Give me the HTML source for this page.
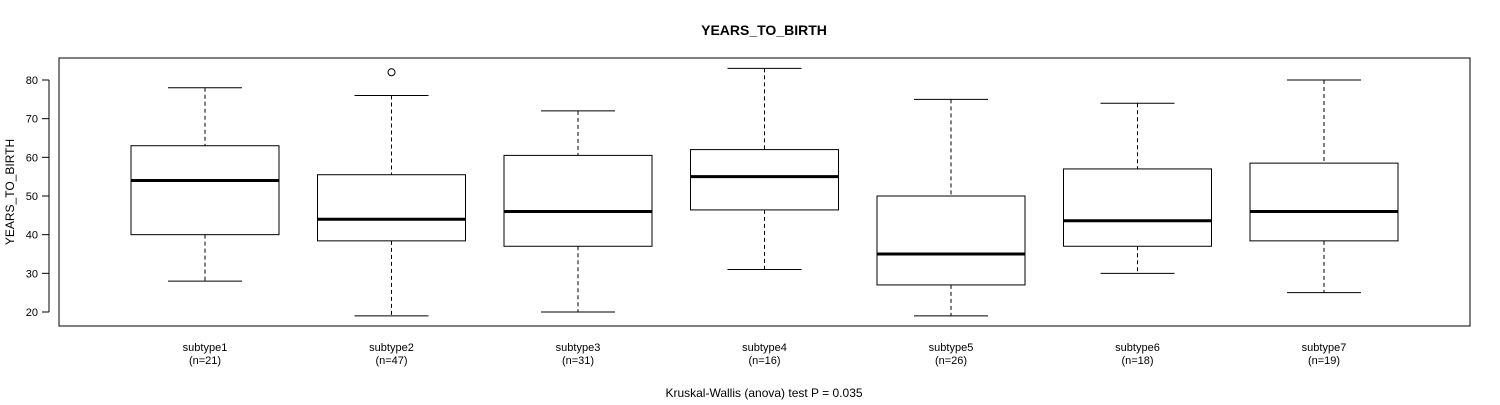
<!DOCTYPE html>
<html><head><meta charset="utf-8"><style>
body{margin:0;background:#fff;}
svg text{font-family:"Liberation Sans",sans-serif;}
</style></head><body>
<svg id="chart" width="1500" height="400" xmlns="http://www.w3.org/2000/svg">
<rect width="1500" height="400" fill="#fff"/>
<text x="764" y="35" text-anchor="middle" font-size="14" font-weight="bold">YEARS_TO_BIRTH</text>
<rect x="59" y="58" width="1411" height="268" fill="none" stroke="#000"/>
<text transform="translate(14,192) rotate(-90)" text-anchor="middle" font-size="12">YEARS_TO_BIRTH</text>
<text x="764" y="397" text-anchor="middle" font-size="12">Kruskal-Wallis (anova) test P = 0.035</text>
<g id="marks"></g>
</svg>
<script>
const categories=["subtype1","subtype2","subtype3","subtype4","subtype5","subtype6","subtype7"];
const counts=[21,47,31,16,26,18,19];
const lows=[28,19,20,31,19,30,25];
const q1s=[40,38.4,37,46.4,27,37,38.4];
const medians=[54,44,46,55,35,43.6,46];
const q3s=[63,55.5,60.5,62,50,57,58.5];
const highs=[78,76,72,83,75,74,80];
const outliers=[[],[82],[],[],[],[],[]];
const yTicks=[20,30,40,50,60,70,80];
const NS="http://www.w3.org/2000/svg";
const g=document.getElementById('marks');
const y=v=>312-(v-20)*(232/60);
const x=i=>205+i*186.5;
function mk(tag,attrs,parent){const e=document.createElementNS(NS,tag);for(const k in attrs)e.setAttribute(k,attrs[k]);(parent||g).appendChild(e);return e;}
mk('line',{x1:49,x2:49,y1:y(20),y2:y(80),stroke:'#000'});
yTicks.forEach(t=>{
  const l=mk('line',{x1:42,x2:49,y1:y(t),y2:y(t),stroke:'#000'});
  
  
  const tx=mk('text',{x:38,y:y(t)+4,'text-anchor':'end','font-size':'11'});
  tx.textContent=t;
  
  
});
categories.forEach((c,i)=>{
  const cx=x(i),hw=74,cw=37;
  const grp=mk('g',{});
  
  
  mk('line',{x1:cx,x2:cx,y1:y(highs[i]),y2:y(q3s[i]),stroke:'#000','stroke-dasharray':'4,3'},grp);
  mk('line',{x1:cx,x2:cx,y1:y(q1s[i]),y2:y(lows[i]),stroke:'#000','stroke-dasharray':'4,3'},grp);
  mk('line',{x1:cx-cw,x2:cx+cw,y1:y(highs[i]),y2:y(highs[i]),stroke:'#000'},grp);
  mk('line',{x1:cx-cw,x2:cx+cw,y1:y(lows[i]),y2:y(lows[i]),stroke:'#000'},grp);
  mk('rect',{x:cx-hw,y:y(q3s[i]),width:2*hw,height:y(q1s[i])-y(q3s[i]),fill:'#fff',stroke:'#000'},grp);
  mk('line',{x1:cx-hw,x2:cx+hw,y1:y(medians[i]),y2:y(medians[i]),stroke:'#000','stroke-width':3},grp);
  outliers[i].forEach(o=>{
    const p=mk('circle',{cx:cx,cy:y(o),r:3.5,fill:'none',stroke:'#000'},grp);
    
    
  });
  const t1=mk('text',{x:cx,y:351,'text-anchor':'middle','font-size':'11'});
  t1.textContent=c;
  
  
  const t2=mk('text',{x:cx,y:364,'text-anchor':'middle','font-size':'11'});
  t2.textContent='(n='+counts[i]+')';
  
  
});
</script>
</body></html>
